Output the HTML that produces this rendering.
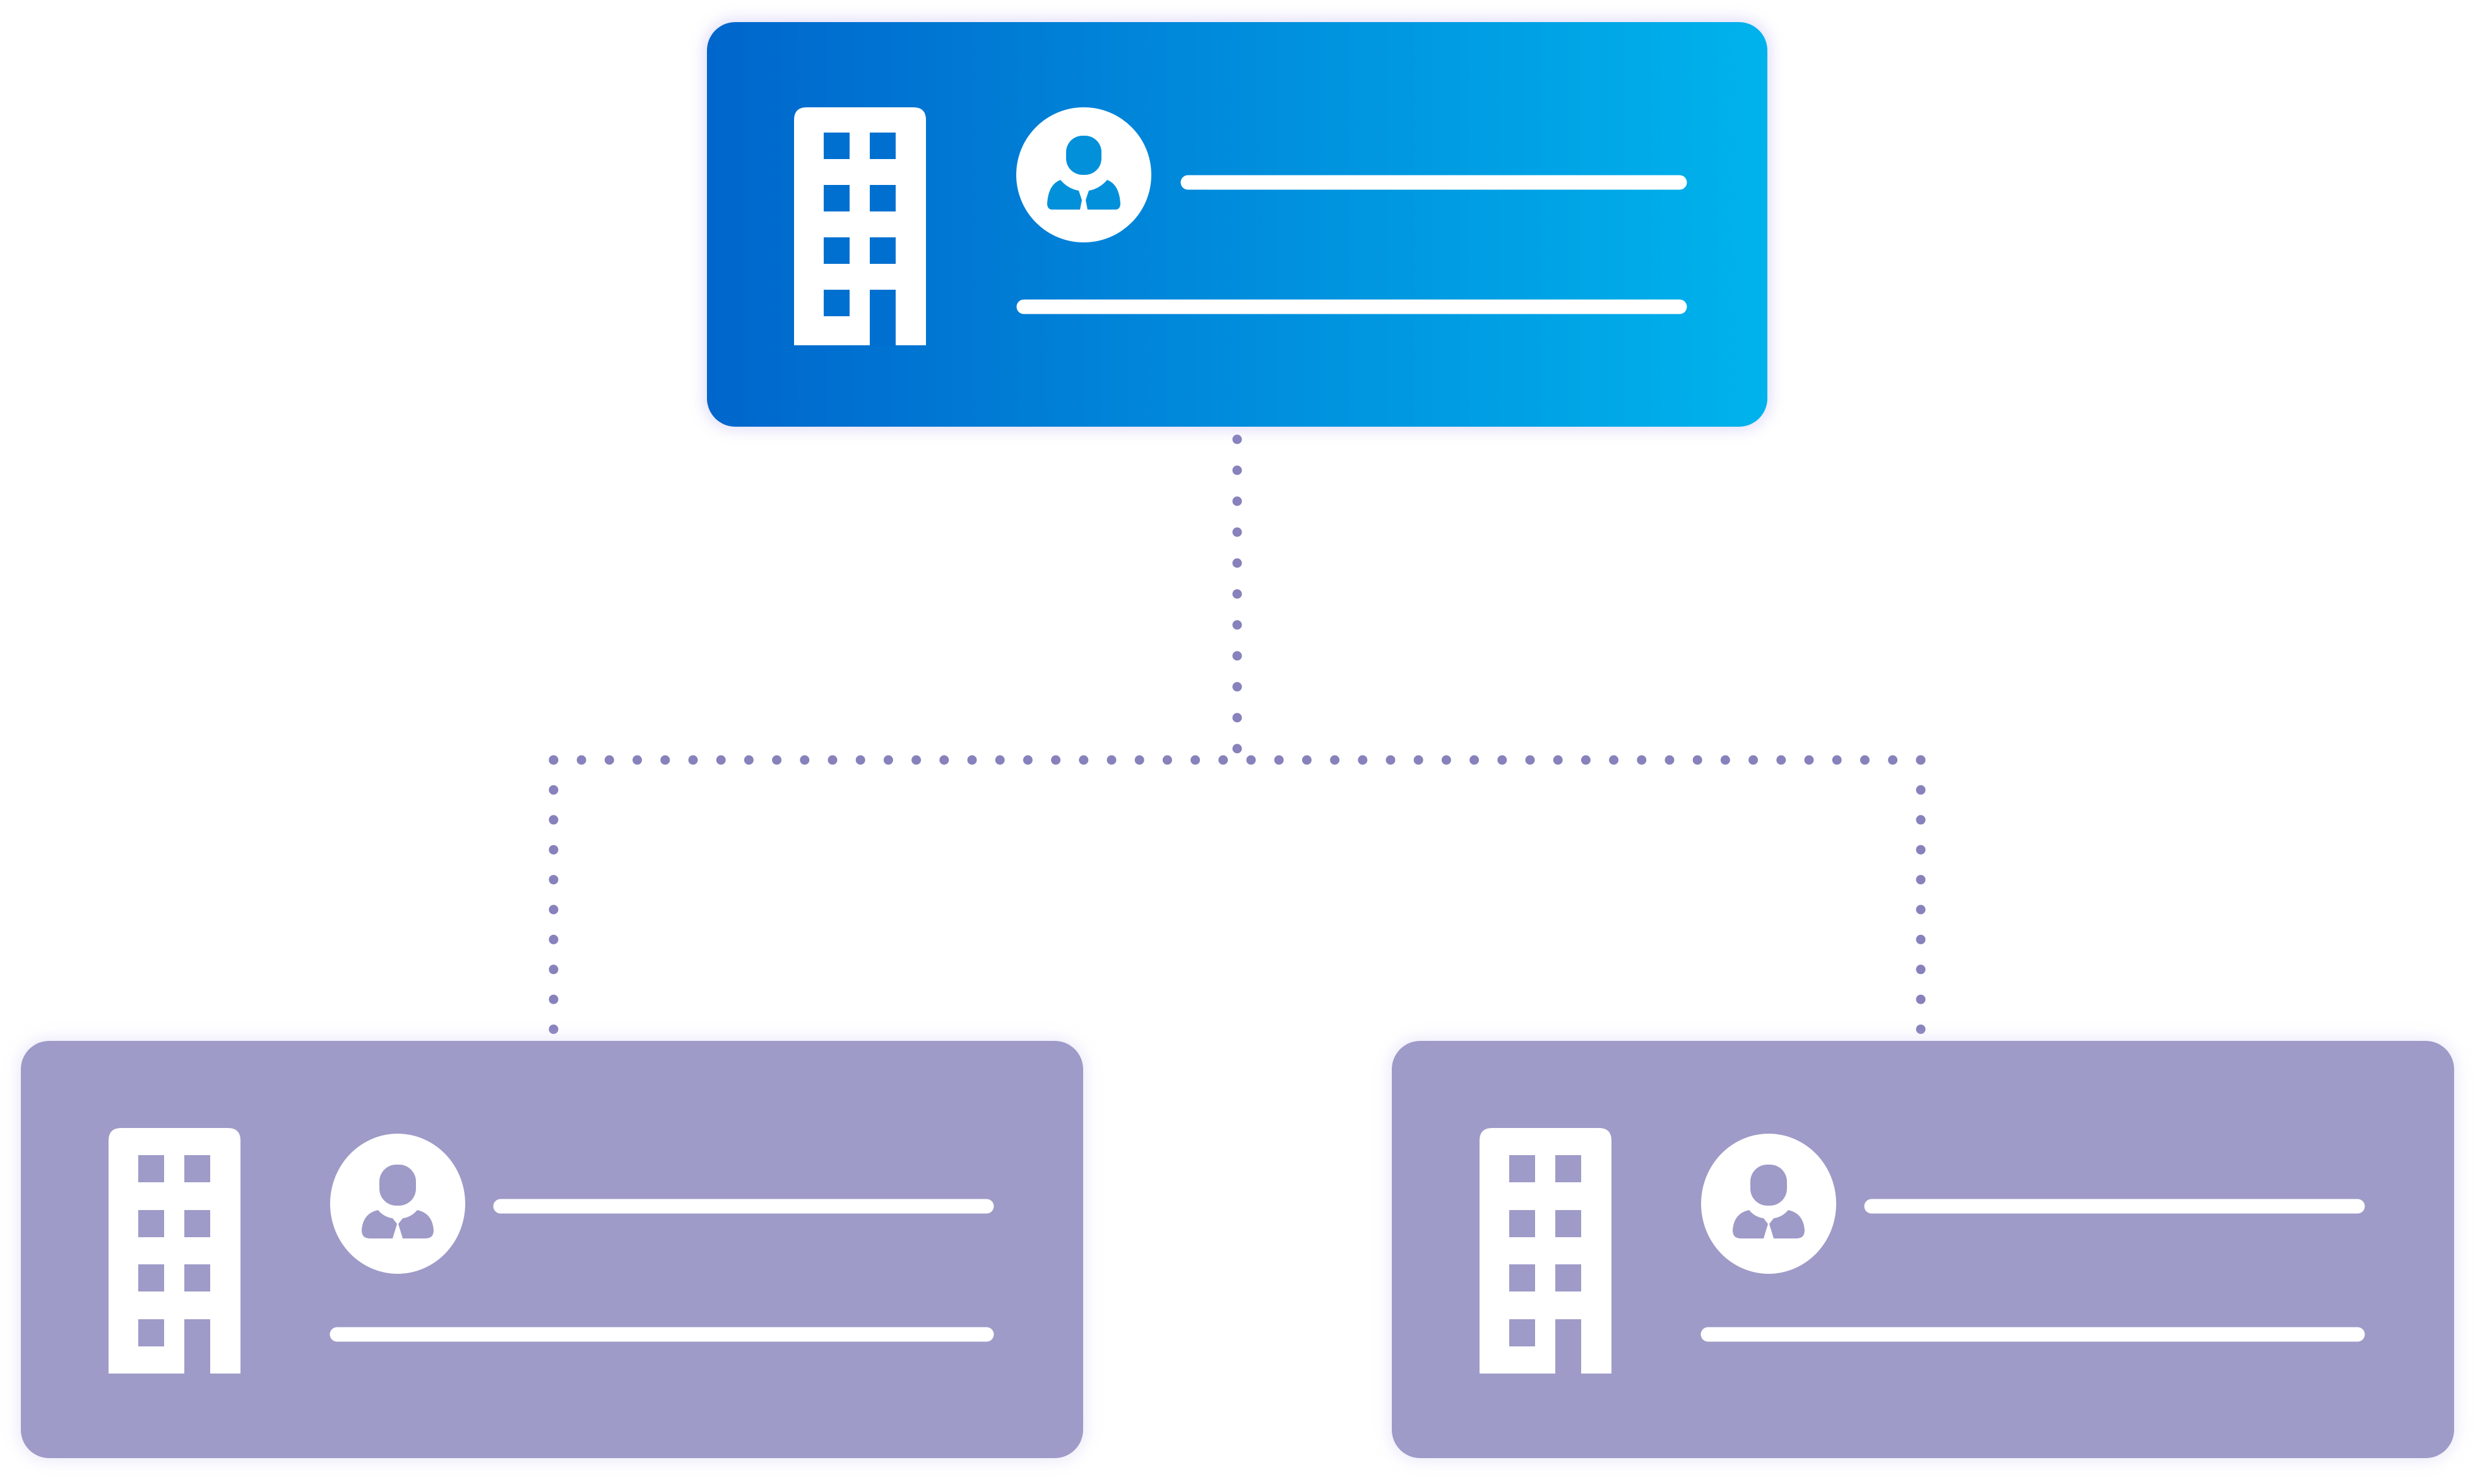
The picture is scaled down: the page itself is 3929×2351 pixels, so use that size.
<!DOCTYPE html>
<html><head><meta charset="utf-8"><style>
html,body{margin:0;padding:0;background:#fff;}
svg{display:block;}
</style></head><body>
<svg width="3929" height="2351" viewBox="0 0 3929 2351" xmlns="http://www.w3.org/2000/svg">
<defs>
<linearGradient id="g" x1="0" y1="0" x2="1" y2="0">
<stop offset="0" stop-color="#0066CC"/><stop offset="1" stop-color="#00B3EC"/>
</linearGradient>
<filter id="bl" x="-10%" y="-20%" width="120%" height="140%">
<feGaussianBlur stdDeviation="12"/>
</filter>
</defs>

<!-- connectors -->
<g stroke="#8781BC" stroke-width="15" stroke-linecap="round" fill="none">
<line x1="1960" y1="696" x2="1960" y2="1190" stroke-dasharray="0 49"/>
<line x1="877" y1="1204" x2="3043" y2="1204" stroke-dasharray="0 44.2"/>
<line x1="877" y1="1204" x2="877" y2="1632" stroke-dasharray="0 47.4"/>
<line x1="3043" y1="1204" x2="3043" y2="1632" stroke-dasharray="0 47.4"/>
</g>

<!-- top box -->
<rect x="1116" y="31" width="1688" height="649" rx="48" fill="#b8b0f0" opacity="0.45" filter="url(#bl)"/>
<rect x="1120" y="35" width="1680" height="641" rx="45" fill="url(#g)"/>
<g transform="translate(1258,170)">
<path d="M0 20 Q0 0 20 0 L189 0 Q209 0 209 20 L209 377 L0 377 Z" fill="#fff"/>
<g fill="#0070D0">
<rect x="47" y="40" width="41" height="42"/><rect x="120" y="40" width="41" height="42"/>
<rect x="47" y="123" width="41" height="42"/><rect x="120" y="123" width="41" height="42"/>
<rect x="47" y="206" width="41" height="42"/><rect x="120" y="206" width="41" height="42"/>
<rect x="47" y="289" width="41" height="42"/><rect x="120" y="289" width="41" height="90"/>
</g>
</g>
<g transform="translate(1717,277)">
<circle r="107" fill="#fff"/>
<g fill="#0290DA">
<rect x="-28" y="-62" width="56" height="62" rx="26"/>
<path d="M-37 8 Q-25 22 -8 25 L-3 40 L-6 55 L-50 55 Q-58 55 -58 45 Q-56 15 -37 8 Z"/>
<path d="M37 8 Q25 22 8 25 L3 40 L6 55 L50 55 Q58 55 58 45 Q56 15 37 8 Z"/>
</g>
</g>
<line x1="1882" y1="289" x2="2661" y2="289" stroke="#fff" stroke-width="23" stroke-linecap="round"/>
<line x1="1622" y1="486" x2="2661" y2="486" stroke="#fff" stroke-width="23" stroke-linecap="round"/>

<!-- bottom boxes -->
<g id="bb">
<rect x="29" y="1645" width="1691" height="669" rx="48" fill="#d8d4f4" opacity="0.5" filter="url(#bl)"/>
<rect x="33" y="1649" width="1683" height="661" rx="45" fill="#9E9BC8"/>
<g transform="translate(172,1787)">
<path d="M0 20 Q0 0 20 0 L189 0 Q209 0 209 20 L209 389 L0 389 Z" fill="#fff"/>
<g fill="#9E9BC8">
<rect x="47" y="43" width="41" height="43"/><rect x="120" y="43" width="41" height="43"/>
<rect x="47" y="130" width="41" height="43"/><rect x="120" y="130" width="41" height="43"/>
<rect x="47" y="216" width="41" height="43"/><rect x="120" y="216" width="41" height="43"/>
<rect x="47" y="303" width="41" height="43"/><rect x="120" y="303" width="41" height="90"/>
</g>
</g>
<g transform="translate(630,1907)">
<ellipse rx="107" ry="111" fill="#fff"/>
<g fill="#9E9BC8">
<rect x="-29" y="-62" width="58" height="65" rx="27"/>
<path d="M-31 10 Q-22 21 -8 23 L-1 32 L-8 55 L-44 55 Q-57 55 -57 42 Q-55 15 -31 10 Z"/>
<path d="M31 10 Q22 21 8 23 L1 32 L8 55 L44 55 Q57 55 57 42 Q55 15 31 10 Z"/>
</g>
</g>
<line x1="793" y1="1911" x2="1563" y2="1911" stroke="#fff" stroke-width="23" stroke-linecap="round"/>
<line x1="534" y1="2114" x2="1563" y2="2114" stroke="#fff" stroke-width="23" stroke-linecap="round"/>
</g>
<use href="#bb" transform="translate(2172,0)"/>
</svg>
</body></html>
